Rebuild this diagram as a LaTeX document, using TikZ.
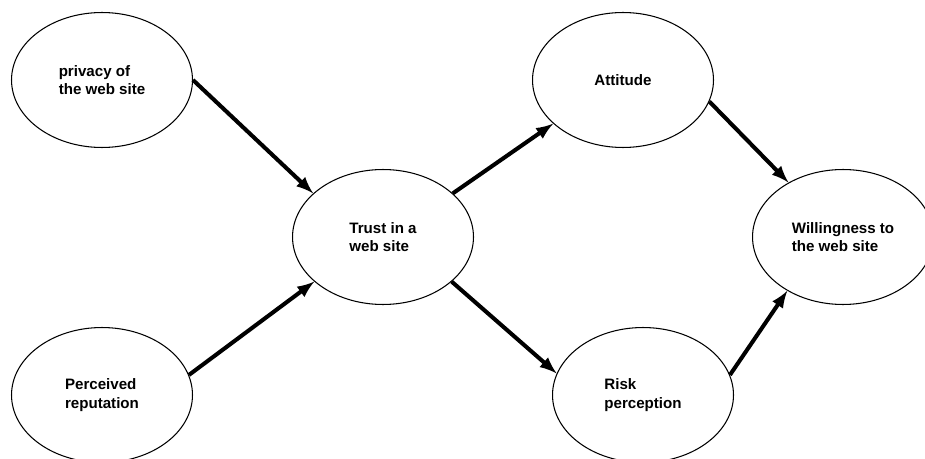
\documentclass[tikz,border=0pt]{standalone}
\usepackage{fontspec}
\setmainfont{Liberation Sans}
\usetikzlibrary{arrows, shapes, positioning}

\begin{document}
\begin{tikzpicture}[x=0.02cm,y=-0.02cm,
  bulle/.style={draw,ellipse,line width=0.6pt,minimum width=3.62cm,minimum height=2.7cm,inner sep=0pt,align=left,font=\bfseries\fontsize{8.6}{10.4}\selectfont},
  lien/.style={->,>=latex,line width=2.3pt}]
\useasboundingbox (0,0) rectangle (925,459);
\node[bulle] (privacy)    at (102,80)  {privacy of\\the web site};
\node[bulle] (reputation) at (102,395) {Perceived\\reputation};
\node[bulle] (trust)      at (383,237) {Trust in a\\web site};
\node[bulle] (attitude)   at (623,80)  {Attitude};
\node[bulle] (risk)       at (643,395) {Risk\\perception};
\node[bulle] (willing)    at (843,237) {Willingness to\\the web site};
\draw[lien] (privacy.0) -- (trust.148);
\draw[lien] (reputation.13) -- (trust.213);
\draw[lien] (trust.32) -- (attitude.212);
\draw[lien] (trust.-33) -- (risk.166);
\draw[lien] (attitude.-14) -- (willing.135);
\draw[lien] (risk.13) -- (willing.224);
\end{tikzpicture}
\end{document}
